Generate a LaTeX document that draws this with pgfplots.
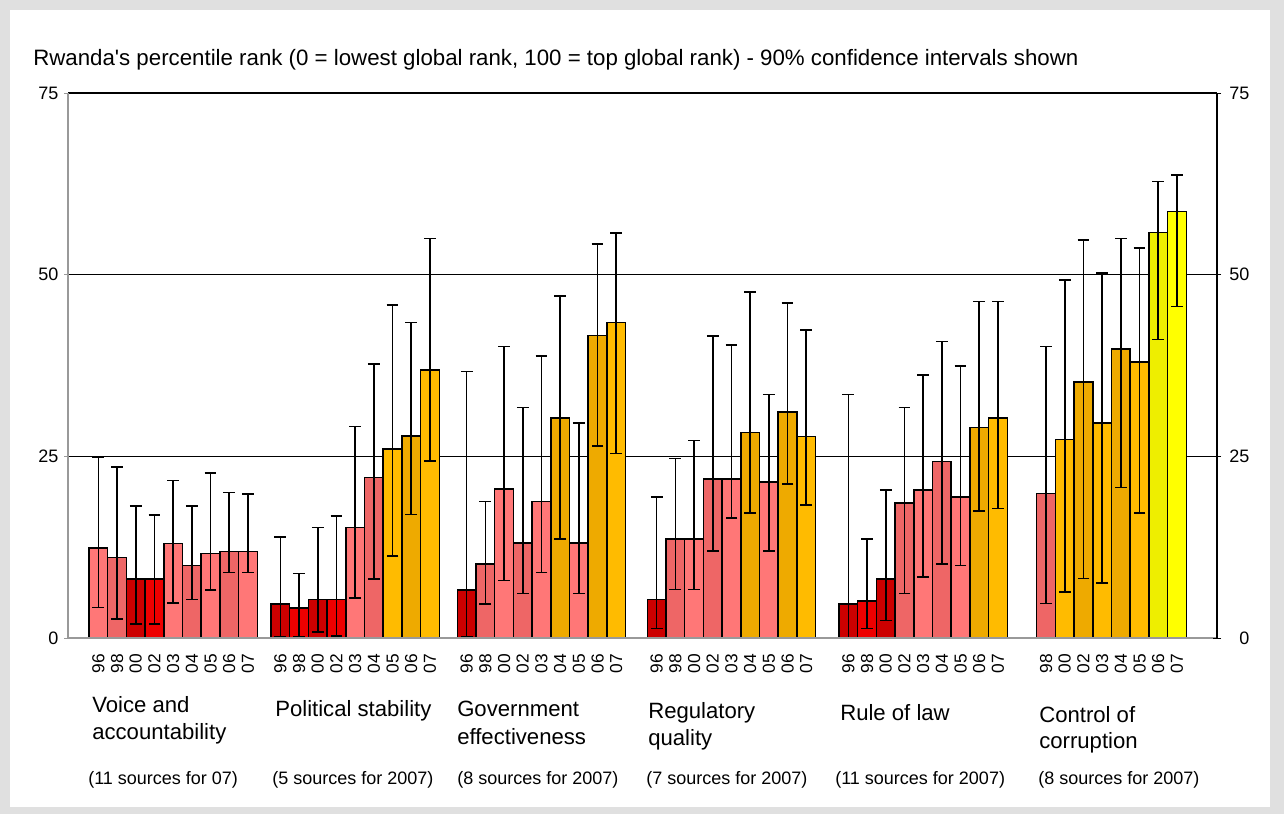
\documentclass[border=0pt]{standalone}
\usepackage{fontspec}
\setmainfont{Liberation Sans}[Ligatures=TeXOff]
\usepackage{pgfplots}
\usepackage{pgfplotstable}
\pgfplotsset{compat=1.18}
\definecolor{c1}{HTML}{CC0000}
\definecolor{c2}{HTML}{EE0000}
\definecolor{c3}{HTML}{FF7777}
\definecolor{c4}{HTML}{EE6666}
\definecolor{c5}{HTML}{FFBB00}
\definecolor{c6}{HTML}{EEAA00}
\definecolor{c7}{HTML}{FFFF00}
\definecolor{c8}{HTML}{EEEE00}
\definecolor{frame}{HTML}{E0E0E0}
\definecolor{axgray}{HTML}{999999}

% x = horizontal position of the bar, y = percentile rank, hi/lo = 90% CI, c = colour class
\pgfplotstableread{
x y hi lo c
98.35 12.4 24.9 4.2 3
117.05 11.1 23.5 2.6 4
135.75 8.1 18.2 1.9 1
154.45 8.1 16.9 1.9 2
173.15 13.0 21.7 4.8 3
191.85 10.0 18.2 5.3 4
210.55 11.6 22.7 6.6 3
229.25 11.9 20.0 9.0 4
247.95 11.9 19.8 9.0 3
280.35 4.7 13.9 0.2 1
299.05 4.1 8.9 0.2 2
317.75 5.3 15.2 0.8 1
336.45 5.3 16.8 0.3 2
355.15 15.2 29.1 5.5 3
373.85 22.1 37.7 8.1 4
392.55 26.0 45.8 11.3 5
411.25 27.8 43.4 17.0 6
429.95 36.9 55.0 24.4 5
466.65 6.6 36.7 0.2 1
485.35 10.2 18.8 4.7 4
504.05 20.5 40.1 7.9 3
522.75 13.1 31.7 6.1 4
541.45 18.8 38.8 9.0 3
560.15 30.3 47.1 13.6 6
578.85 13.1 29.6 6.1 3
597.55 41.6 54.2 26.4 6
616.25 43.4 55.7 25.4 5
656.65 5.3 19.4 1.3 1
675.35 13.6 24.7 6.7 4
694.05 13.6 27.2 6.7 3
712.75 21.9 41.6 12.0 4
731.45 21.9 40.3 16.5 3
750.15 28.3 47.6 17.2 6
768.85 21.5 33.5 12.0 3
787.55 31.1 46.1 21.2 6
806.25 27.7 42.4 18.3 5
848.35 4.7 33.5 0.0 1
867.05 5.1 13.6 1.3 2
885.75 8.1 20.4 2.4 1
904.45 18.6 31.7 6.1 4
923.15 20.4 36.2 8.4 3
941.85 24.3 40.8 10.2 4
960.55 19.4 37.4 10.0 3
979.25 29.0 46.3 17.5 6
997.95 30.3 46.3 17.8 5
1046.05 19.9 40.1 4.75 4
1064.75 27.3 49.3 6.3 5
1083.45 35.2 54.8 8.2 6
1102.15 29.6 50.2 7.6 5
1120.85 39.8 55.0 20.7 6
1139.55 38.0 53.7 17.2 5
1158.25 55.8 62.8 41.1 8
1176.95 58.7 63.7 45.6 7
}\bars

\pgfplotsset{
  mybar/.style={ybar, bar width=18.7, bar shift=0pt, draw=black, line width=1.1pt,
    fill=c#1,
    restrict expr to domain={\thisrow{c}}{#1:#1},
    error bars/.cd, y dir=both, y explicit,
    error bar style={black, line width=1.2pt},
    error mark options={rotate=90, black, line width=1.2pt, mark size=4.4pt}},
  mybase/.style={scale only axis, width=861.75pt, height=408.75pt,
    at={(51pt,-478.5pt)}, anchor=south west,
    xmin=68, xmax=1217, ymin=0, ymax=75,
    /pgf/number format/assume math mode=true}
}

\begin{document}
\begin{tikzpicture}
\begin{scope}[x=0.75pt,y=-0.75pt]
\fill[frame] (0,0) rectangle (1284,814);
\fill[white] (10,10) rectangle (1270,807);
\end{scope}

\begin{axis}[mybase,
  axis line style={draw=none},
  ytick={0,25,50,75},
  ymajorgrids, grid style={black, line width=1pt},
  xtick={98.35,117.05,135.75,154.45,173.15,191.85,210.55,229.25,247.95,
         280.35,299.05,317.75,336.45,355.15,373.85,392.55,411.25,429.95,
         466.65,485.35,504.05,522.75,541.45,560.15,578.85,597.55,616.25,
         656.65,675.35,694.05,712.75,731.45,750.15,768.85,787.55,806.25,
         848.35,867.05,885.75,904.45,923.15,941.85,960.55,979.25,997.95,
         1046.05,1064.75,1083.45,1102.15,1120.85,1139.55,1158.25,1176.95},
  xticklabels={96,98,00,02,03,04,05,06,07,
               96,98,00,02,03,04,05,06,07,
               96,98,00,02,03,04,05,06,07,
               96,98,00,02,03,04,05,06,07,
               96,98,00,02,03,04,05,06,07,
               98,00,02,03,04,05,06,07},
  x tick style={draw=none},
  y tick style={draw=axgray, line width=0.75pt},
  tick align=outside, major tick length=3pt,
  xticklabel style={rotate=90, anchor=east, inner sep=0pt, font=\fontsize{13}{13}\selectfont},
  xticklabel shift=9pt,
  yticklabel style={inner sep=0pt, font=\fontsize{13.5}{14}\selectfont},
  yticklabel shift=4pt,
  clip=false,
]
\pgfplotsinvokeforeach{1,...,8}{
  \addplot[mybar=#1] table[x=x, y=y,
    y error plus expr=\thisrow{hi}-\thisrow{y},
    y error minus expr=\thisrow{y}-\thisrow{lo}] {\bars};
}
\draw[axgray, line width=1.2pt] (axis cs:68,0) -- (axis cs:1217,0);
\draw[axgray, line width=1pt] (axis cs:68,0) -- (axis cs:68,75);
\end{axis}

\begin{axis}[mybase,
  axis x line=none, axis y line*=right,
  y axis line style={black, line width=1pt, -},
  ytick={0,25,50,75},
  tick align=center, major tick length=6pt,
  y tick style={black, line width=0.75pt},
  yticklabel style={inner sep=0pt, text width=15pt, align=right, font=\fontsize{13.5}{14}\selectfont},
  yticklabel shift=6pt,
]
\end{axis}

\begin{scope}[x=0.75pt,y=-0.75pt, every node/.style={inner sep=0pt, anchor=base west}]
\node[font=\fontsize{16.7}{20}\selectfont] at (33,65) {Rwanda's percentile rank (0 = lowest global rank, 100 = top global rank) - 90\% confidence intervals shown};
\begin{scope}[every node/.append style={font=\fontsize{16.6}{20}\selectfont}]
\node at (92,712) {Voice and};
\node at (92,739) {accountability};
\node at (275,716) {Political stability};
\node at (457,716) {Government};
\node at (457,744) {effectiveness};
\node at (648,718) {Regulatory};
\node at (648,745) {quality};
\node at (840,720) {Rule of law};
\node at (1039,722) {Control of};
\node at (1039,748) {corruption};
\end{scope}
\begin{scope}[every node/.append style={font=\fontsize{13.5}{16}\selectfont}]
\node at (88,784) {(11 sources for 07)};
\node at (272,784) {(5 sources for 2007)};
\node at (457,784) {(8 sources for 2007)};
\node at (646,784) {(7 sources for 2007)};
\node at (835,784) {(11 sources for 2007)};
\node at (1038,784) {(8 sources for 2007)};
\end{scope}
\end{scope}
\end{tikzpicture}
\end{document}
